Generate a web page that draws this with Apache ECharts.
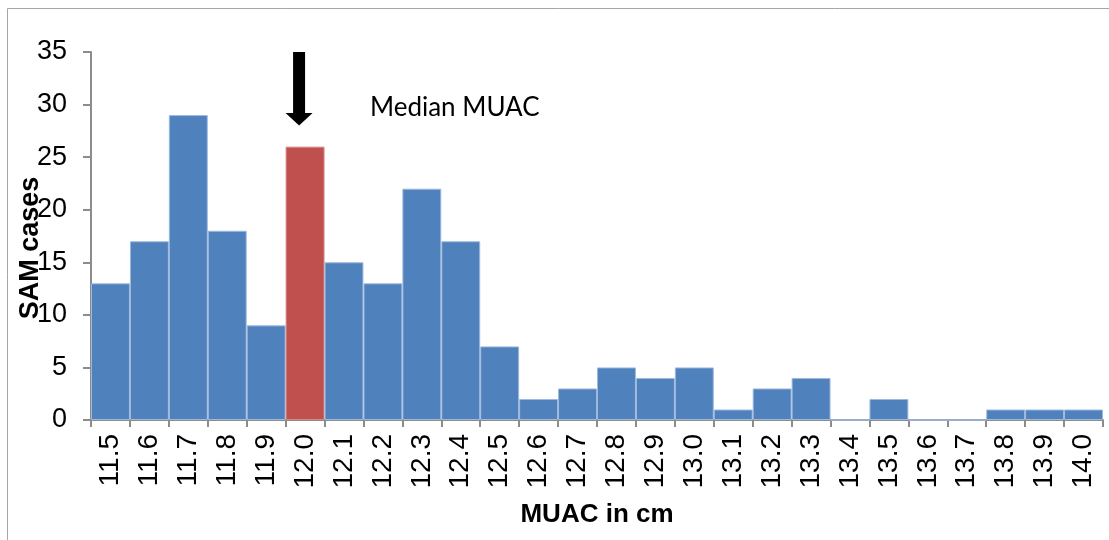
<!DOCTYPE html>
<html>
<head>
<meta charset="utf-8">
<script src="https://cdn.jsdelivr.net/npm/echarts@6/dist/echarts.min.js"></script>
<style>
html,body{margin:0;padding:0;background:#fff;}
#chart{width:1109px;height:540px;}
</style>
</head>
<body>
<div id="chart"></div>
<script>
const categories = ['11.5','11.6','11.7','11.8','11.9','12.0','12.1','12.2','12.3','12.4','12.5','12.6','12.7','12.8','12.9','13.0','13.1','13.2','13.3','13.4','13.5','13.6','13.7','13.8','13.9','14.0'];
const samCases = [13,17,29,18,9,26,15,13,22,17,7,2,3,5,4,5,1,3,4,0,2,0,0,1,1,1];
const medianCategory = '12.0';
const yTicks = {min:0, max:35, interval:5};
const xAxisTitle = 'MUAC in cm';
const yAxisTitle = 'SAM cases';
const annotationText = 'Median MUAC';

const BLUE = '#4f81bd', RED = '#c0504d', AXIS = '#8c8c8c';
const chart = echarts.init(document.getElementById('chart'), null, {renderer:'canvas'});

const barData = samCases.map((v,i)=>({
  value: v,
  itemStyle: {color: categories[i]===medianCategory ? RED : BLUE,
              borderColor: categories[i]===medianCategory ? '#d08a88' : '#9fb9dc'}
}));

chart.setOption({
  animation:false,
  backgroundColor:'#fff',
  grid:{left:91, right:6, top:52, bottom:120, containLabel:false, outerBoundsMode:'none'},
  xAxis:{
    type:'category', data:categories,
    axisLine:{lineStyle:{color:AXIS, width:2}},
    axisTick:{show:true, alignWithLabel:false, length:7, lineStyle:{color:AXIS, width:2}},
    axisLabel:{rotate:90, margin:14, color:'#000', fontFamily:'Liberation Sans, Arial', fontSize:28, interval:0},
    name:xAxisTitle, nameLocation:'middle', nameGap:82,
    nameTextStyle:{color:'#000', fontFamily:'Liberation Sans, Arial', fontSize:26, fontWeight:'bold'}
  },
  yAxis:{
    type:'value', min:yTicks.min, max:yTicks.max, interval:yTicks.interval,
    splitLine:{show:false},
    axisLine:{show:true, lineStyle:{color:AXIS, width:2}},
    axisTick:{show:true, length:8, lineStyle:{color:AXIS, width:2}},
    axisLabel:{margin:24, color:'#000', fontFamily:'Liberation Sans, Arial', fontSize:27},
    name:yAxisTitle, nameLocation:'middle', nameGap:47, nameRotate:90, nameMoveOverlap:false,
    nameTextStyle:{color:'#000', fontFamily:'Liberation Sans, Arial', fontSize:27, fontWeight:'bold', padding:[0,24,0,0]}
  },
  series:[{
    type:'bar', data:barData, barWidth:'100%', barGap:'0%', barCategoryGap:'0%',
    itemStyle:{borderWidth:1}
  }]
});

function drawAnnotations(){
  const idx = categories.indexOf(medianCategory);
  const cx = chart.convertToPixel({xAxisIndex:0}, medianCategory) - 6;
  const yTop = chart.convertToPixel({yAxisIndex:0}, 35);
  const yHead = chart.convertToPixel({yAxisIndex:0}, 29.2);
  const yTip = chart.convertToPixel({yAxisIndex:0}, 28);
  const yText = chart.convertToPixel({yAxisIndex:0}, 29.7);
  const textX = chart.convertToPixel({xAxisIndex:0}, categories[idx+2]) - 13;
  chart.setOption({
    graphic:[
      {type:'rect', shape:{x:7.5, y:8.5, width:1200, height:700}, style:{fill:null, stroke:'#a6a6a6', lineWidth:1}, silent:true, z:0},
      {type:'polygon', shape:{points:[
        [cx-6, yTop],[cx+6, yTop],[cx+6, yHead],[cx+13.5, yHead],[cx, yTip],[cx-13.5, yHead],[cx-6, yHead]
      ]}, style:{fill:'#000'}, z:10},
      {type:'text', x:textX, y:yText, style:{text:annotationText, fill:'#000', font:'26px Lato, "Open Sans", sans-serif', textVerticalAlign:'middle'}, z:10}
    ]
  });
}
drawAnnotations();
</script>
</body>
</html>
